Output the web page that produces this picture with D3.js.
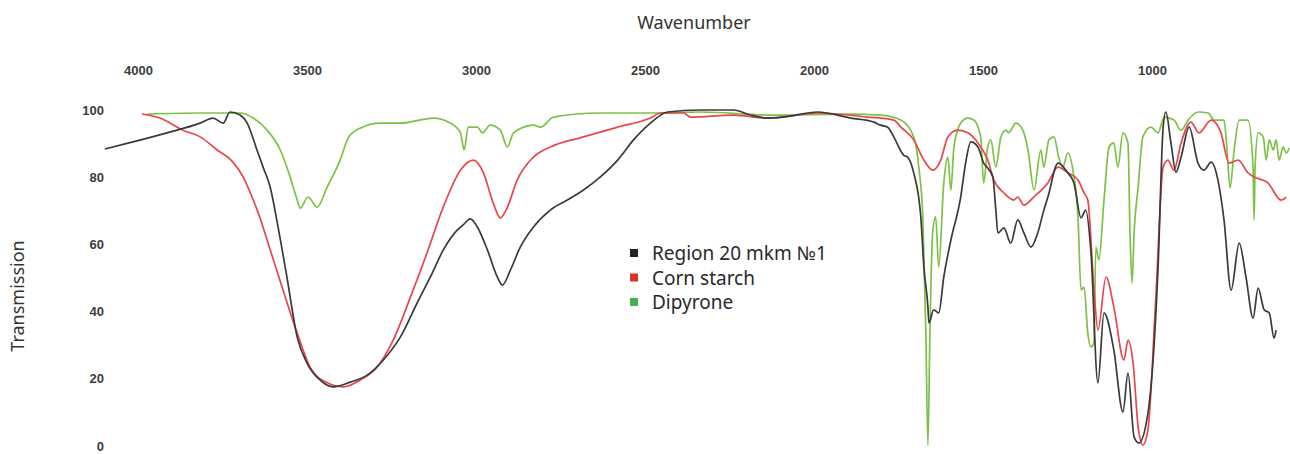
<!DOCTYPE html>
<html>
<head>
<meta charset="utf-8">
<script src="https://cdn.jsdelivr.net/npm/d3@7"></script>
<style>
  html, body { margin: 0; padding: 0; background: #ffffff; }
  svg { display: block; }
</style>
</head>
<body>
<svg id="chart" width="1290" height="454"></svg>
<script>
// ---- Data (wavenumber cm-1, transmission %) ----
const xTicks = [4000, 3500, 3000, 2500, 2000, 1500, 1000];
const yTicks = [0, 20, 40, 60, 80, 100];
const seriesNames = ["Region 20 mkm №1", "Corn starch", "Dipyrone"];

const regionSeries = [
  [4098,88.4],[4015,90.5],[3914,93.2],[3816,96.1],[3778,97.6],[3748,96.1],[3728,99.4],[3698,98.5],
  [3677,96.1],[3648,88.1],[3630,83.0],[3609,77.1],[3588,66.5],[3559,50.0],[3529,32.4],[3500,24.7],
  [3461,19.6],[3423,17.6],[3372,19.0],[3322,21.1],[3274,25.6],[3224,32.4],[3174,42.6],[3135,50.3],
  [3097,58.3],[3055,64.3],[3038,65.8],[3017,67.6],[2996,65.2],[2966,58.3],[2937,50.3],[2922,47.9],
  [2898,52.4],[2869,59.2],[2830,65.2],[2780,70.2],[2730,73.2],[2682,76.2],[2632,80.1],[2581,85.1],
  [2534,91.1],[2484,96.1],[2433,99.4],[2336,100],[2238,100],[2188,98.5],[2137,97.6],[2090,97.9],
  [1989,99.4],[1891,97.6],[1823,96.4],[1803,95.5],[1782,94.9],[1764,92.0],[1735,86.6],[1723,86.0],
  [1705,81.3],[1684,68.2],[1675,53.3],[1663,41.4],[1660,36.6],[1646,40.5],[1631,39.6],[1616,50.3],
  [1595,61.3],[1566,74.1],[1551,84.5],[1536,90.5],[1515,89.0],[1498,84.2],[1486,82.7],[1471,80.1],
  [1462,70.2],[1456,63.4],[1438,64.9],[1418,60.4],[1397,67.3],[1379,63.4],[1358,59.2],[1338,63.4],
  [1320,70.2],[1308,74.1],[1278,84.2],[1249,81.3],[1231,78.3],[1210,67.9],[1196,70.2],[1181,58.3],
  [1160,18.8],[1142,39.6],[1113,28.6],[1086,10.1],[1071,21.7],[1053,2.7],[1039,0.9],[1012,9.8],
  [982,53.3],[967,94.9],[959,99.4],[944,90.2],[929,81.5],[914,86.0],[890,94.9],[864,84.2],
  [846,82.1],[825,84.5],[805,79.2],[787,67.3],[766,46.4],[742,60.4],[722,50.3],[701,38.1],
  [686,47.0],[668,40.5],[653,39.6],[639,32.1],[633,34.5]
];

const starchSeries = [
  [3988,98.8],[3935,97.6],[3867,94.0],[3816,92.0],[3766,88.1],[3719,84.5],[3689,80.1],[3659,73.2],
  [3639,67.9],[3618,61.3],[3571,46.4],[3529,33.6],[3491,23.5],[3440,18.8],[3393,17.6],[3343,19.6],
  [3292,23.5],[3245,31.5],[3194,44.3],[3144,57.7],[3097,71.1],[3046,82.1],[3008,85.1],[2978,81.3],
  [2949,72.3],[2928,67.9],[2907,71.1],[2878,79.2],[2830,86.0],[2780,89.0],[2682,92.0],[2581,94.9],
  [2484,97.6],[2454,99.1],[2386,99.1],[2365,97.9],[2238,98.5],[2137,97.6],[1989,99.1],[1841,97.9],
  [1764,97.0],[1743,94.9],[1705,91.1],[1675,85.1],[1649,82.1],[1625,85.1],[1604,92.0],[1575,94.0],
  [1545,93.2],[1515,90.2],[1486,85.1],[1468,79.2],[1438,75.3],[1409,73.2],[1397,74.1],[1379,71.7],
  [1350,74.1],[1308,78.3],[1278,83.0],[1249,81.3],[1219,79.2],[1201,75.3],[1190,73.2],[1172,47.3],
  [1160,34.5],[1136,50.3],[1113,41.4],[1083,25.6],[1071,31.5],[1056,24.7],[1041,5.7],[1027,0.3],
  [1012,4.8],[989,43.5],[967,83.0],[953,85.1],[935,82.1],[914,90.2],[885,96.4],[861,93.2],
  [825,97.0],[796,93.2],[772,84.2],[745,85.1],[716,81.3],[698,80.1],[657,78.3],[618,73.2],[603,74.1]
];

const dipyroneSeries = [
  [3973,98.8],[3816,99.1],[3698,99.1],[3659,97.6],[3618,94.0],[3579,88.1],[3550,80.1],[3529,73.2],
  [3520,70.8],[3497,74.1],[3470,71.1],[3440,77.1],[3402,85.1],[3378,91.7],[3343,94.6],[3283,96.1],
  [3224,96.1],[3126,97.6],[3076,96.1],[3046,93.2],[3035,88.1],[3023,94.9],[2996,94.9],[2981,93.2],
  [2958,95.5],[2928,94.0],[2907,89.0],[2889,93.2],[2830,95.5],[2809,94.9],[2771,97.9],[2632,99.1],
  [2484,99.1],[2336,99.4],[2119,98.5],[1891,98.8],[1803,98.5],[1743,97.0],[1705,92.0],[1690,83.0],
  [1678,68.2],[1669,33.6],[1663,0.3],[1657,33.6],[1649,63.4],[1640,68.2],[1631,53.3],[1616,78.3],
  [1604,86.0],[1595,76.2],[1586,89.0],[1566,96.1],[1545,97.6],[1527,97.0],[1507,92.0],[1498,78.3],
  [1486,89.0],[1477,91.1],[1462,83.0],[1447,92.0],[1432,94.0],[1424,93.2],[1403,96.1],[1382,94.0],
  [1367,88.1],[1349,76.2],[1329,88.1],[1320,83.0],[1305,91.1],[1290,92.0],[1276,86.0],[1264,83.0],
  [1249,87.2],[1234,82.1],[1219,68.2],[1210,46.4],[1201,47.3],[1190,33.6],[1181,29.5],[1172,30.7],
  [1166,59.2],[1157,55.4],[1142,73.2],[1127,89.0],[1113,90.2],[1101,83.0],[1086,93.2],[1071,90.2],
  [1065,63.4],[1059,48.5],[1053,63.4],[1041,77.1],[1027,92.0],[1003,94.9],[982,93.2],[964,97.9],
  [935,97.0],[914,94.0],[893,97.0],[864,99.4],[834,99.1],[816,97.0],[787,97.0],[778,88.1],
  [769,76.8],[757,88.1],[742,97.0],[716,97.0],[701,83.0],[698,67.3],[695,83.0],[686,93.2],
  [671,92.0],[662,85.1],[653,91.1],[641,88.1],[633,91.1],[624,85.1],[612,89.0],[603,87.2],[594,88.7]
];

const lineColors = ["#3a3a3a", "#e8464a", "#7cc247"];
const legendColors = ["#222222", "#d9302b", "#4cae4f"];

// ---- Drawing ----
const svg = d3.select("#chart");
const x = d3.scaleLinear().domain([4000, 1000]).range([138, 1152]);
const y = d3.scaleLinear().domain([0, 100]).range([446, 110]);

// x axis on top
svg.append("g")
  .attr("transform", "translate(0,75)")
  .call(d3.axisTop(x).tickValues(xTicks).tickSize(0).tickPadding(0).tickFormat(d3.format("d")))
  .call(g => g.select(".domain").remove())
  .call(g => g.selectAll("text")
    .attr("font-family", "'Liberation Sans', Arial, sans-serif")
    .attr("font-weight", "bold")
    .attr("font-size", 13)
    .attr("fill", "#3c3c3c"));

// y axis
svg.append("g")
  .attr("transform", "translate(104,0)")
  .call(d3.axisLeft(y).tickValues(yTicks).tickSize(0).tickPadding(0))
  .call(g => g.select(".domain").remove())
  .call(g => g.selectAll("text")
    .attr("font-family", "'Liberation Sans', Arial, sans-serif")
    .attr("font-weight", "bold")
    .attr("font-size", 13)
    .attr("fill", "#3c3c3c"));

// axis titles
svg.append("text")
  .attr("x", 694).attr("y", 29)
  .attr("text-anchor", "middle")
  .attr("font-family", "'Noto Sans', sans-serif")
  .attr("font-size", 18)
  .attr("fill", "#333")
  .text("Wavenumber");

svg.append("text")
  .attr("transform", "translate(24,296) rotate(-90)")
  .attr("text-anchor", "middle")
  .attr("font-family", "'Noto Sans', sans-serif")
  .attr("font-size", 18)
  .attr("fill", "#333")
  .text("Transmission");

// lines
const line = d3.line()
  .x(d => x(d[0]))
  .y(d => y(d[1]))
  .curve(d3.curveMonotoneX);

const allSeries = [regionSeries, starchSeries, dipyroneSeries];
const drawOrder = [2, 1, 0];
drawOrder.forEach(i => {
  svg.append("path")
    .datum(allSeries[i])
    .attr("fill", "none")
    .attr("stroke", lineColors[i])
    .attr("stroke-width", 1.7)
    .attr("stroke-linejoin", "round")
    .attr("d", line);
});

// legend
const legend = svg.append("g").attr("transform", "translate(630,253)");
seriesNames.forEach((name, i) => {
  const g = legend.append("g").attr("transform", `translate(0,${i * 24.5})`);
  g.append("rect")
    .attr("x", 0).attr("y", -4).attr("width", 8).attr("height", 8)
    .attr("fill", legendColors[i]);
  g.append("text")
    .attr("x", 22).attr("y", 7)
    .attr("font-family", "'Noto Sans', sans-serif")
    .attr("font-size", 19)
    .attr("fill", "#2a2a2a")
    .text(name);
});
</script>
</body>
</html>
